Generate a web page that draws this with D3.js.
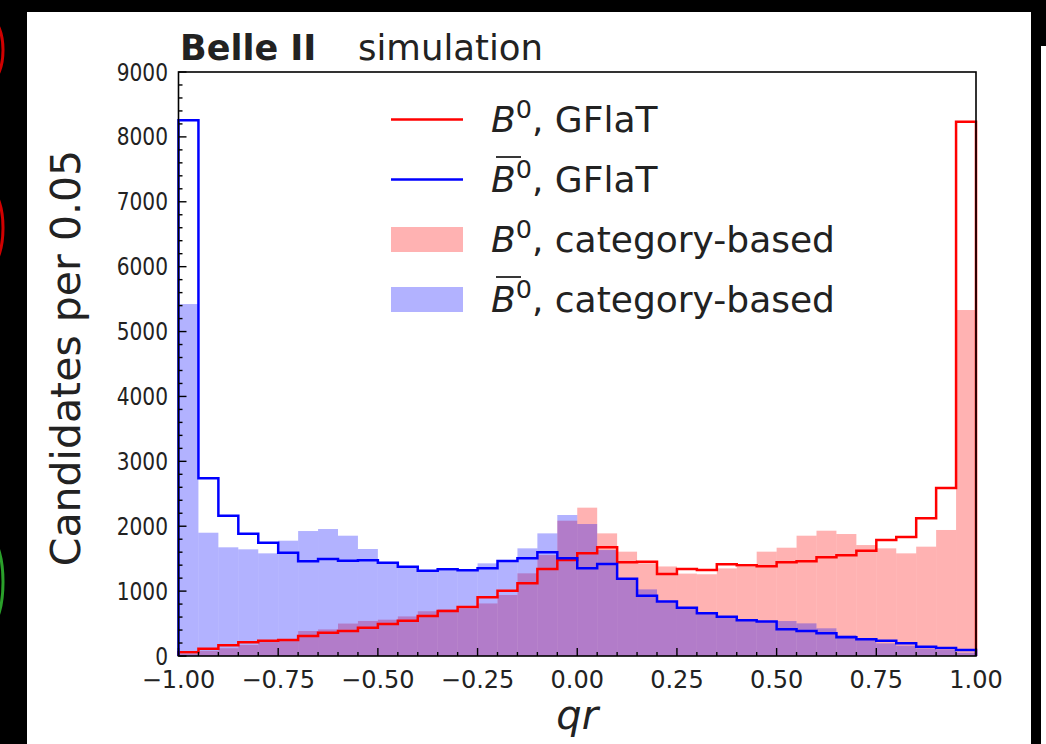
<!DOCTYPE html>
<html>
<head>
<meta charset="utf-8">
<script src="https://cdn.jsdelivr.net/npm/d3@7"></script>
<style>
  html, body { margin: 0; padding: 0; background: #000; }
  svg { display: block; font-family: "DejaVu Sans", sans-serif; }
</style>
</head>
<body>
<svg id="chart" width="1046" height="744"></svg>
<script>
// bin edges of qr, 40 bins of 0.05
const binEdges = d3.range(41).map(i => -1 + i * 0.05);

// B0, GFlaT (red step)
const b0Gflat = [57, 113, 164, 211, 236, 247, 308, 360, 385, 437,
  493, 545, 616, 693, 755, 904, 1007, 1120, 1341, 1479,
  1582, 1675, 1443, 1454, 1264, 1341, 1325, 1413, 1397, 1382,
  1443, 1459, 1520, 1551, 1623, 1788, 1834, 2122, 2589, 8234];

// B0bar, GFlaT (blue step)
const b0barGflat = [8255, 2738, 2162, 1885, 1746, 1592, 1459, 1495, 1469, 1474,
  1438, 1376, 1315, 1336, 1320, 1351, 1464, 1505, 1597, 1505,
  1351, 1418, 1192, 930, 838, 745, 658, 606, 550, 530,
  411, 385, 349, 288, 257, 236, 195, 144, 123, 92];

// B0, category-based (red filled)
const b0Cat = [30, 80, 120, 170, 215, 255, 385, 410, 500, 540,
  560, 610, 690, 720, 730, 810, 940, 1274, 1556, 2085,
  2286, 1890, 1608, 1430, 1380, 1270, 1260, 1350, 1375, 1608,
  1669, 1854, 1931, 1880, 1710, 1659, 1582, 1685, 1942, 5332];

// B0bar, category-based (blue filled)
const b0barCat = [5424, 1900, 1675, 1644, 1582, 1777, 1926, 1957, 1854, 1649,
  1450, 1360, 1300, 1320, 1310, 1428, 1480, 1659, 1890, 2173,
  2034, 1633, 1180, 1027, 830, 740, 670, 600, 555, 524,
  539, 503, 427, 324, 247, 195, 159, 118, 92, 51];

const xTicks = [-1, -0.75, -0.5, -0.25, 0, 0.25, 0.5, 0.75, 1];
const yTicks = d3.range(0, 9001, 1000);
const legendLabels = ['GFlaT', 'GFlaT', 'category-based', 'category-based'];

const svg = d3.select('#chart');
const margin = { left: 178.5, right: 976, top: 72, bottom: 656 };

// black screenshot frame and white page
svg.append('rect').attr('width', 1046).attr('height', 744).attr('fill', '#000');
svg.append('rect').attr('x', 27).attr('y', 12).attr('width', 1004).attr('height', 732).attr('fill', '#fff');
svg.append('rect').attr('x', 1041).attr('y', 46).attr('width', 5).attr('height', 698).attr('fill', '#fff');

// stray coloured edges on the left strip
const clip = svg.append('defs').append('clipPath').attr('id', 'strip');
clip.append('rect').attr('x', 0).attr('y', 0).attr('width', 6).attr('height', 744);
const strip = svg.append('g').attr('clip-path', 'url(#strip)');
[{ cy: 50, ry: 30, c: '#d00000' }, { cy: 228, ry: 36, c: '#d00000' }, { cy: 582, ry: 42, c: '#2aa02a' }]
  .forEach(d => {
    strip.append('ellipse').attr('cx', -9).attr('cy', d.cy).attr('rx', 12).attr('ry', d.ry)
      .attr('fill', 'none').attr('stroke', d.c).attr('stroke-width', 3);
  });

const x = d3.scaleLinear().domain([-1, 1]).range([margin.left, margin.right]);
const y = d3.scaleLinear().domain([0, 9000]).range([margin.bottom, margin.top]);

// filled histograms, one rect per bin (red first, blue on top)
function drawBars(values, color) {
  svg.append('g').selectAll('rect')
    .data(values)
    .join('rect')
    .attr('x', (d, i) => x(binEdges[i]))
    .attr('width', (d, i) => x(binEdges[i + 1]) - x(binEdges[i]))
    .attr('y', d => y(d))
    .attr('height', d => y(0) - y(d))
    .attr('fill', color)
    .attr('fill-opacity', 0.3);
}
drawBars(b0Cat, '#ff0000');
drawBars(b0barCat, '#0000ff');

// step outlines
function drawStep(values, color) {
  const pts = [{ x: binEdges[0], v: 0 }]
    .concat(values.map((v, i) => ({ x: binEdges[i], v })))
    .concat([{ x: binEdges[40], v: values[39] }, { x: binEdges[40], v: 0 }]);
  const line = d3.line().x(d => x(d.x)).y(d => y(d.v)).curve(d3.curveStepAfter);
  svg.append('path').attr('d', line(pts))
    .attr('fill', 'none').attr('stroke', color).attr('stroke-width', 2.5);
}
drawStep(b0Gflat, '#ff0000');
drawStep(b0barGflat, '#0000ff');

// axes with inward ticks
const axisG = svg.append('g').attr('stroke', '#000').attr('stroke-width', 1.4);
axisG.selectAll('.ymin').data(d3.range(0, 9001, 200)).join('line')
  .attr('x1', margin.left).attr('x2', d => margin.left + (d % 1000 === 0 ? 8 : 4))
  .attr('y1', d => y(d)).attr('y2', d => y(d));
axisG.selectAll('.xmin').data(d3.range(41).map(i => -1 + i * 0.05)).join('line')
  .attr('x1', d => x(d)).attr('x2', d => x(d))
  .attr('y1', margin.bottom)
  .attr('y2', (d, i) => margin.bottom - (i % 5 === 0 ? 8 : 4));
svg.append('rect')
  .attr('x', margin.left).attr('y', margin.top)
  .attr('width', margin.right - margin.left).attr('height', margin.bottom - margin.top)
  .attr('fill', 'none').attr('stroke', '#000').attr('stroke-width', 1.6);

const fmtX = d3.format('.2f');
svg.append('g').selectAll('text').data(xTicks).join('text')
  .attr('x', d => x(d)).attr('y', 688)
  .attr('text-anchor', 'middle').attr('font-size', 24).attr('fill', '#222')
  .text(d => fmtX(d));
// y tick labels: narrower glyphs, as in the reference
svg.append('g').selectAll('text').data(yTicks).join('text')
  .attr('transform', d => `translate(168, ${y(d) + 8.5}) scale(0.84, 1.05)`)
  .attr('text-anchor', 'end').attr('font-size', 24).attr('fill', '#222')
  .text(d => d);

// axis labels
svg.append('text')
  .attr('transform', 'translate(80, 358) rotate(-90)')
  .attr('text-anchor', 'middle').attr('font-size', 41).attr('fill', '#222')
  .text('Candidates per 0.05');
svg.append('text')
  .attr('x', x(0)).attr('y', 729)
  .attr('text-anchor', 'middle').attr('font-size', 40).attr('font-style', 'italic').attr('fill', '#222')
  .text('qr');

// title
svg.append('text').attr('x', 180).attr('y', 60)
  .attr('font-size', 35).attr('font-weight', 'bold').attr('fill', '#222').text('Belle II');
svg.append('text').attr('x', 358).attr('y', 60)
  .attr('font-size', 35.5).attr('fill', '#222').text('simulation');

// legend
const rows = [
  { kind: 'line', color: '#ff0000', bar: false },
  { kind: 'line', color: '#0000ff', bar: true },
  { kind: 'patch', color: '#ff0000', bar: false },
  { kind: 'patch', color: '#0000ff', bar: true }
];
const legend = svg.append('g');
rows.forEach((r, i) => {
  const cy = 119.5 + i * 60;
  if (r.kind === 'line') {
    legend.append('line').attr('x1', 391).attr('x2', 463).attr('y1', cy).attr('y2', cy)
      .attr('stroke', r.color).attr('stroke-width', 2.5);
  } else {
    legend.append('rect').attr('x', 391).attr('y', cy - 12.5).attr('width', 72).attr('height', 25)
      .attr('fill', r.color).attr('fill-opacity', 0.3);
  }
  const t = legend.append('text').attr('x', 491).attr('y', cy + 12)
    .attr('font-size', 36).attr('fill', '#222');
  t.append('tspan').attr('font-style', 'italic').text('B');
  t.append('tspan').attr('font-size', 25.5).attr('dy', -14).text('0');
  t.append('tspan').attr('dy', 14).text(', ' + legendLabels[i]);
  if (r.bar) {
    legend.append('line').attr('x1', 496).attr('x2', 521)
      .attr('y1', cy - 22.5).attr('y2', cy - 22.5)
      .attr('stroke', '#222').attr('stroke-width', 1.8);
  }
});
</script>
</body>
</html>
